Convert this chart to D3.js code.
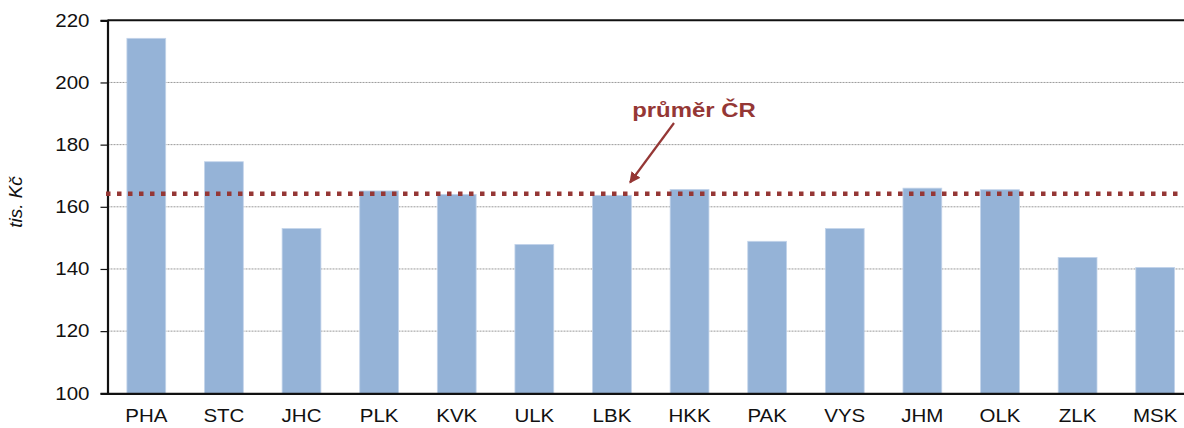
<!DOCTYPE html>
<html>
<head>
<meta charset="utf-8">
<script src="https://cdn.jsdelivr.net/npm/d3@7"></script>
<style>
  body { margin: 0; background: #fff; overflow: hidden; }
  svg { display: block; }
  text { font-family: "Liberation Sans", Arial, sans-serif; }
</style>
</head>
<body>
<div class="container"></div>
<script>
const width = 1184;
const height = 428;

// kraje a hodnoty (tis. Kč)
const regions = ["PHA", "STC", "JHC", "PLK", "KVK", "ULK", "LBK", "HKK", "PAK", "VYS", "JHM", "OLK", "ZLK", "MSK"];
const values = [214.2, 174.5, 153.0, 165.1, 164.0, 147.9, 163.7, 165.6, 148.9, 153.0, 166.0, 165.5, 143.7, 140.5];
const average = 164.2;
const yTicks = [100, 120, 140, 160, 180, 200, 220];
const avgLabel = "průměr ČR";
const yTitle = "tis. Kč";

const plotLeft = 107.5, plotRight = 1194, plotTop = 20.3, plotBottom = 393.3;
const stretch = 1.14; // the text in the reference is a bit wide

const svg = d3.select(".container")
    .append("svg")
    .attr("width", width)
    .attr("height", height);

const xScale = d3.scaleBand()
    .domain(regions)
    .range([plotLeft, plotRight])
    .paddingInner(0.5)
    .paddingOuter(0.25);

const yScale = d3.scaleLinear()
    .domain([100, 220])
    .range([plotBottom, plotTop]);

// gridlines
svg.append("g")
    .selectAll("line")
    .data(yTicks.slice(1, -1))
    .enter()
    .append("line")
    .attr("x1", plotLeft)
    .attr("x2", plotRight)
    .attr("y1", d => yScale(d))
    .attr("y2", d => yScale(d))
    .attr("stroke", "#9a9a9a")
    .attr("stroke-width", 1)
    .attr("stroke-dasharray", "2,1");

// bars
svg.append("g")
    .selectAll("rect")
    .data(regions)
    .enter()
    .append("rect")
    .attr("x", d => xScale(d))
    .attr("width", xScale.bandwidth())
    .attr("y", (d, i) => yScale(values[i]))
    .attr("height", (d, i) => yScale(100) - yScale(values[i]))
    .attr("fill", "#95b3d7")
    .attr("stroke", "#c3d4ea")
    .attr("stroke-width", 0.8);

// frame: top border, left axis, bottom axis
svg.append("line")
    .attr("x1", plotLeft).attr("x2", plotRight)
    .attr("y1", plotTop).attr("y2", plotTop)
    .attr("stroke", "#111").attr("stroke-width", 2);

const yAxis = d3.axisLeft(yScale)
    .tickValues(yTicks)
    .tickSize(7)
    .tickPadding(11)
    .tickFormat(d3.format("d"));

const gy = svg.append("g")
    .attr("transform", `translate(${plotLeft},0)`)
    .call(yAxis);
gy.select(".domain").attr("stroke", "#111").attr("stroke-width", 2.2);
gy.selectAll(".tick line").attr("stroke", "#111").attr("stroke-width", 1.2);
gy.selectAll(".tick text")
    .attr("font-size", 18)
    .attr("fill", "#111")
    .attr("transform", function () {
        const x = +d3.select(this).attr("x");
        return `translate(${x},0) scale(${stretch},1) translate(${-x},0)`;
    });

const xAxis = d3.axisBottom(xScale)
    .tickSize(0)
    .tickPadding(16);

const gx = svg.append("g")
    .attr("transform", `translate(0,${plotBottom})`)
    .call(xAxis);
gx.select(".domain").attr("stroke", "#111").attr("stroke-width", 2.2);
gx.selectAll(".tick text")
    .attr("font-size", 18)
    .attr("fill", "#111")
    .attr("transform", `scale(${stretch},1)`);

// average line
svg.append("line")
    .attr("x1", plotLeft - 1.5)
    .attr("x2", plotRight)
    .attr("y1", yScale(average))
    .attr("y2", yScale(average))
    .attr("stroke", "#953735")
    .attr("stroke-width", 4.5)
    .attr("stroke-dasharray", "4.5,6.5");

// arrow + label
svg.append("defs")
    .append("marker")
    .attr("id", "arrow")
    .attr("viewBox", "0 0 10 10")
    .attr("refX", 9)
    .attr("refY", 5)
    .attr("markerWidth", 5)
    .attr("markerHeight", 5)
    .attr("orient", "auto")
    .append("path")
    .attr("d", "M0,0 L10,5 L0,10 z")
    .attr("fill", "#953735");

svg.append("line")
    .attr("x1", 674)
    .attr("y1", 123)
    .attr("x2", 630)
    .attr("y2", 182.5)
    .attr("stroke", "#953735")
    .attr("stroke-width", 2.2)
    .attr("marker-end", "url(#arrow)");

svg.append("text")
    .attr("x", 694 / stretch)
    .attr("y", 117)
    .attr("transform", `scale(${stretch},1)`)
    .attr("text-anchor", "middle")
    .attr("font-size", 21)
    .attr("font-weight", "bold")
    .attr("fill", "#953735")
    .text(avgLabel);

// y title
svg.append("text")
    .attr("transform", "translate(22,202) rotate(-90)")
    .attr("text-anchor", "middle")
    .attr("font-size", 19)
    .attr("font-style", "italic")
    .attr("fill", "#111")
    .text(yTitle);
</script>
</body>
</html>
